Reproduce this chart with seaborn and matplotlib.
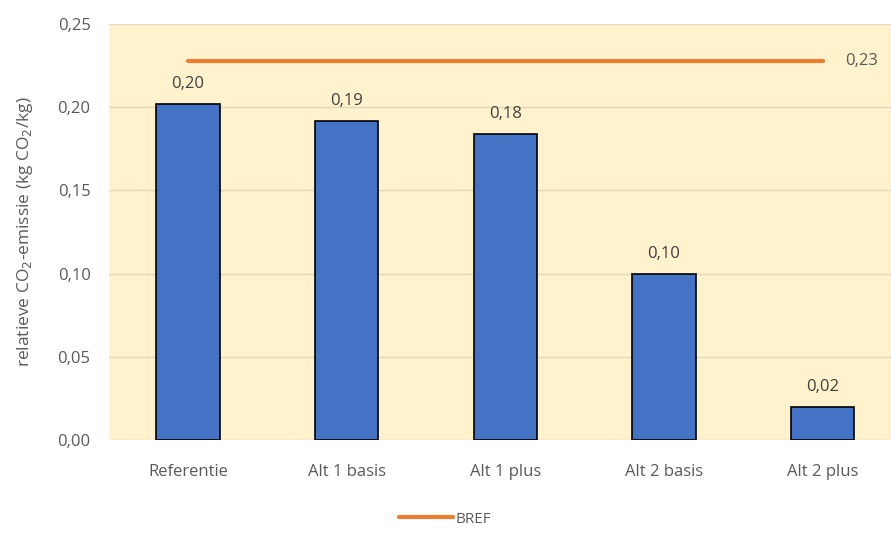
import matplotlib
matplotlib.use('Agg')
import matplotlib.pyplot as plt
import seaborn as sns
import pandas as pd

# data
categories = ['Referentie', 'Alt 1 basis', 'Alt 1 plus', 'Alt 2 basis', 'Alt 2 plus']
emissions = [0.202, 0.192, 0.184, 0.100, 0.020]
bref_value = 0.228
bref_label = '0,23'
yticks = [0.00, 0.05, 0.10, 0.15, 0.20, 0.25]

df = pd.DataFrame({'scenario': categories, 'emissie': emissions})

sns.set_style('white')
plt.rcParams['font.family'] = ['Open Sans', 'DejaVu Sans']
grey = '#595959'

fig = plt.figure(figsize=(8.91, 5.34), dpi=100)
ax = fig.add_axes([0.1219, 0.176, 0.8905, 0.779])
ax.set_facecolor('#fff2cc')

sns.barplot(data=df, x='scenario', y='emissie', color='#4472c4', width=0.4,
            edgecolor='black', linewidth=1.2, saturation=1, ax=ax, zorder=3)

# BREF line across the bars
xs = list(range(len(categories)))
ax.plot(xs, [bref_value] * len(xs), color='#ed7d31', linewidth=3, zorder=4, label='BREF')
ax.text(xs[-1] + 0.14, bref_value, bref_label, color=grey, fontsize=12, va='center', ha='left')

# value labels
for i, v in enumerate(emissions):
    ax.text(i, v + 0.007, f'{v:.2f}'.replace('.', ','), color='#404040', fontsize=12,
            ha='center', va='bottom')

ax.set_xlim(-0.5, len(categories) - 0.5)
ax.set_ylim(0, 0.25)
ax.set_yticks(yticks)
ax.set_yticklabels([f'{t:.2f}'.replace('.', ',') for t in yticks])
ax.yaxis.grid(True, color='#e3d7b8', linewidth=1)
ax.set_axisbelow(True)
for s in ax.spines.values():
    s.set_visible(False)
ax.tick_params(axis='both', length=0, colors=grey, labelsize=12)
ax.tick_params(axis='x', pad=17)
ax.tick_params(axis='y', pad=13)
ax.set_xlabel('')
ax.set_ylabel(r'relatieve CO$_2$-emissie (kg CO$_2$/kg)', color=grey, fontsize=12.5, labelpad=16)

fig.legend(loc='lower center', bbox_to_anchor=(0.5, -0.012), frameon=False, fontsize=11,
           labelcolor=grey, handlelength=3.5, handletextpad=0.2)

plt.savefig('out.png', dpi=100, facecolor='white')
